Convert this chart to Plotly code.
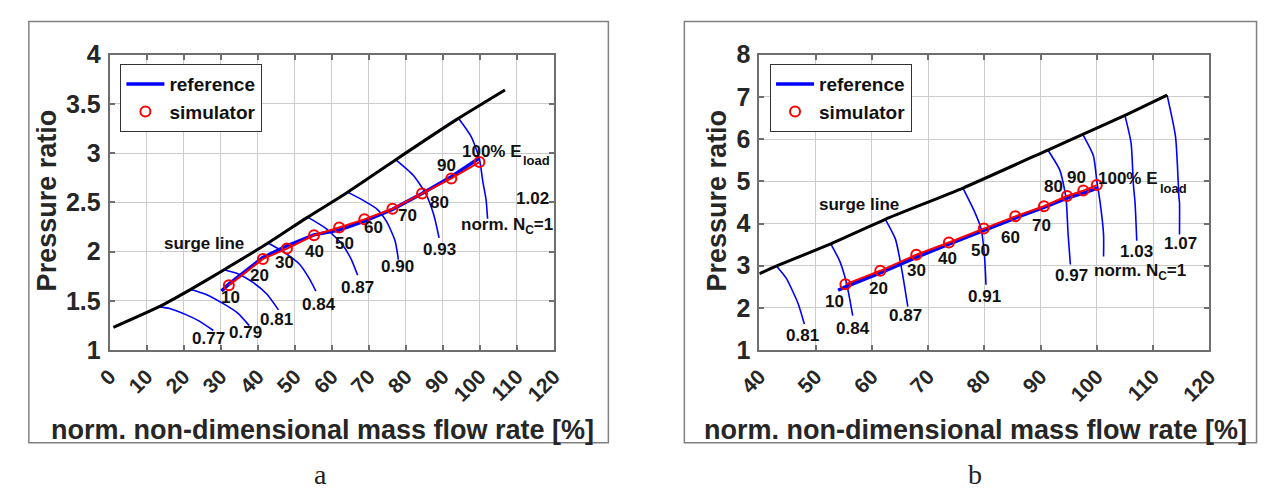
import plotly.graph_objects as go

W, H = 1268, 503

# ---------------- panel a data ----------------
A_SURGE_X = [1.0, 13.4, 21.8, 30.7, 42.8, 53.2, 64.3, 77.2, 93.9, 106.8]
A_SURGE_Y = [1.232, 1.442, 1.615, 1.812, 2.087, 2.343, 2.604, 2.931, 3.345, 3.641]

A_N077_X = [13.6, 16.2, 20.6, 24.1, 28.0]
A_N077_Y = [1.44, 1.424, 1.361, 1.297, 1.20]
A_N079_X = [21.9, 25.9, 30.7, 34.6, 37.7]
A_N079_Y = [1.616, 1.568, 1.472, 1.376, 1.249]
A_N081_X = [31.1, 34.6, 39.0, 42.5, 45.6]
A_N081_Y = [1.814, 1.776, 1.68, 1.568, 1.409]
A_N084_X = [42.9, 46.9, 51.3, 53.9, 55.7]
A_N084_Y = [2.085, 1.999, 1.872, 1.728, 1.60]
A_N087_X = [53.5, 58.3, 62.7, 65.3, 67.0]
A_N087_Y = [2.35, 2.238, 2.08, 1.92, 1.76]
A_N090_X = [64.3, 68.5, 72.3, 74.9, 77.1, 78.0]
A_N090_Y = [2.604, 2.52, 2.43, 2.30, 2.11, 1.92]
A_N093_X = [77.1, 81.9, 85.4, 87.6, 89.0]
A_N093_Y = [2.94, 2.78, 2.59, 2.37, 2.14]
A_N100_X = [94.2, 97.7, 99.9, 100.8, 101.7, 102.1]
A_N100_Y = [3.356, 3.165, 2.94, 2.717, 2.526, 2.334]

A_REF_X = [30.2, 32.2, 41.4, 47.9, 55.2, 62.0, 68.8, 76.4, 84.4, 92.3, 99.9]
A_REF_Y = [1.60, 1.67, 1.94, 2.06, 2.17, 2.22, 2.31, 2.43, 2.59, 2.76, 2.95]
A_SIM_X = [32.2, 41.4, 47.9, 55.2, 62.0, 68.8, 76.4, 84.4, 92.3, 99.9]
A_SIM_Y = [1.658, 1.926, 2.031, 2.166, 2.245, 2.328, 2.435, 2.59, 2.743, 2.909]

A_SPEED_LABELS = ["0.77", "0.79", "0.81", "0.84", "0.87", "0.90", "0.93", "1.02"]
A_SPEED_LAB_X = [26.6, 36.8, 45.0, 56.6, 67.0, 77.7, 89.0, 114.3]
A_SPEED_LAB_Y = [1.12, 1.175, 1.31, 1.46, 1.64, 1.85, 2.02, 2.54]
A_LOAD_LABELS = ["10", "20", "30", "40", "50", "60", "70", "80", "90"]
A_LOAD_LAB_X = [32.7, 40.6, 47.1, 55.3, 63.5, 71.4, 80.6, 89.0, 90.9]
A_LOAD_LAB_Y = [1.536, 1.754, 1.894, 2.0, 2.085, 2.245, 2.367, 2.494, 2.87]

# ---------------- panel b data ----------------
B_SURGE_X = [40.0, 43.2, 52.7, 62.4, 76.2, 91.3, 97.5, 105.0, 112.5]
B_SURGE_Y = [2.81, 3.0, 3.52, 4.10, 4.84, 5.74, 6.11, 6.56, 7.04]

B_N081_X = [43.0, 44.8, 46.9, 48.0]
B_N081_Y = [3.0, 2.70, 2.10, 1.62]
B_N084_X = [52.7, 54.3, 55.5, 56.6]
B_N084_Y = [3.52, 3.11, 2.59, 1.82]
B_N087_X = [62.4, 64.2, 65.4, 66.4]
B_N087_Y = [4.10, 3.63, 2.85, 2.03]
B_N091_X = [76.2, 78.2, 79.4, 80.0, 80.3]
B_N091_Y = [4.84, 4.30, 3.89, 3.29, 2.55]
B_N097_X = [91.3, 93.4, 94.3, 94.6, 94.9, 95.3]
B_N097_Y = [5.74, 5.27, 4.78, 4.49, 3.74, 3.03]
B_N100_X = [97.5, 99.4, 100.0, 100.6, 101.2, 101.2]
B_N100_Y = [6.11, 5.60, 5.01, 4.49, 3.74, 3.22]
B_N103_X = [105.0, 106.1, 106.5, 106.8, 107.1]
B_N103_Y = [6.56, 5.90, 4.93, 4.49, 3.59]
B_N107_X = [112.5, 114.0, 114.6, 114.7, 114.7]
B_N107_Y = [7.04, 6.05, 4.63, 4.49, 3.74]

B_REF_X = [54.0, 55.3, 61.5, 67.9, 73.7, 79.9, 85.5, 90.6, 94.7, 97.6, 100.1]
B_REF_Y = [2.42, 2.50, 2.83, 3.20, 3.51, 3.84, 4.13, 4.38, 4.60, 4.72, 4.84]
B_SIM_X = [55.3, 61.5, 67.9, 73.7, 79.9, 85.5, 90.6, 94.7, 97.6, 100.0]
B_SIM_Y = [2.56, 2.88, 3.26, 3.55, 3.88, 4.17, 4.41, 4.65, 4.78, 4.91]

B_SPEED_LABELS = ["0.81", "0.84", "0.87", "0.91", "0.97", "1.03", "1.07"]
B_SPEED_LAB_X = [47.6, 56.7, 65.9, 80.0, 95.5, 107.0, 114.8]
B_SPEED_LAB_Y = [1.35, 1.52, 1.82, 2.27, 2.76, 3.33, 3.53]
B_LOAD_LABELS = ["10", "20", "30", "40", "50", "60", "70", "80", "90"]
B_LOAD_LAB_X = [53.4, 61.2, 67.9, 73.4, 79.4, 84.7, 90.1, 92.3, 96.4]
B_LOAD_LAB_Y = [2.16, 2.47, 2.88, 3.16, 3.37, 3.68, 3.96, 4.87, 5.10]

X_TITLE = "norm. non-dimensional mass flow rate [%]"
Y_TITLE = "Pressure ratio"

FONT = "Liberation Sans"
BLUE = "#0000ff"
RED = "#ff0000"


def px(x):
    return x / W


def py(y):
    return 1 - y / H


A_SPEEDS = [(A_N077_X, A_N077_Y), (A_N079_X, A_N079_Y), (A_N081_X, A_N081_Y),
            (A_N084_X, A_N084_Y), (A_N087_X, A_N087_Y), (A_N090_X, A_N090_Y),
            (A_N093_X, A_N093_Y), (A_N100_X, A_N100_Y)]
B_SPEEDS = [(B_N081_X, B_N081_Y), (B_N084_X, B_N084_Y), (B_N087_X, B_N087_Y),
            (B_N091_X, B_N091_Y), (B_N097_X, B_N097_Y), (B_N100_X, B_N100_Y),
            (B_N103_X, B_N103_Y), (B_N107_X, B_N107_Y)]

fig = go.Figure()


def add_panel(xa, ya, legend, surge_x, surge_y, speeds, ref_x, ref_y, sim_x, sim_y):
    for sx, sy in speeds:
        fig.add_trace(go.Scatter(x=sx, y=sy, mode="lines", xaxis=xa, yaxis=ya,
                                 line=dict(color=BLUE, width=1.6, shape="spline", smoothing=0.6),
                                 showlegend=False, hoverinfo="skip"))
    fig.add_trace(go.Scatter(x=surge_x, y=surge_y, mode="lines", xaxis=xa, yaxis=ya,
                             line=dict(color="black", width=3, shape="spline", smoothing=0.5),
                             showlegend=False, hoverinfo="skip"))
    fig.add_trace(go.Scatter(x=ref_x, y=ref_y, mode="lines", xaxis=xa, yaxis=ya,
                             name="reference", legend=legend,
                             line=dict(color=BLUE, width=3.5)))
    fig.add_trace(go.Scatter(x=sim_x, y=sim_y, mode="lines", xaxis=xa, yaxis=ya,
                             line=dict(color=RED, width=2), showlegend=False, hoverinfo="skip"))
    fig.add_trace(go.Scatter(x=sim_x, y=sim_y, mode="markers", xaxis=xa, yaxis=ya,
                             name="simulator", legend=legend,
                             marker=dict(symbol="circle-open", size=10, color=RED,
                                         line=dict(width=2, color=RED))))


add_panel("x", "y", "legend", A_SURGE_X, A_SURGE_Y, A_SPEEDS, A_REF_X, A_REF_Y, A_SIM_X, A_SIM_Y)
add_panel("x2", "y2", "legend2", B_SURGE_X, B_SURGE_Y, B_SPEEDS, B_REF_X, B_REF_Y, B_SIM_X, B_SIM_Y)

ann = []
lab_font = dict(family=FONT, size=17, color="#111111", weight="bold")


def add_labels(xr, yr, labels, xs, ys):
    for t, x, y in zip(labels, xs, ys):
        ann.append(dict(x=x, y=y, xref=xr, yref=yr, text=t, showarrow=False,
                        xanchor="center", yanchor="middle", font=lab_font))


add_labels("x", "y", A_SPEED_LABELS, A_SPEED_LAB_X, A_SPEED_LAB_Y)
add_labels("x", "y", A_LOAD_LABELS, A_LOAD_LAB_X, A_LOAD_LAB_Y)
add_labels("x2", "y2", B_SPEED_LABELS, B_SPEED_LAB_X, B_SPEED_LAB_Y)
add_labels("x2", "y2", B_LOAD_LABELS, B_LOAD_LAB_X, B_LOAD_LAB_Y)

add_labels("x", "y", ["surge line", "100% E", "norm. N<sub>C</sub>=1"],
           [25.6, 103.2, 107.4], [2.08, 3.02, 2.26])
add_labels("x2", "y2", ["surge line", "100% E", "norm. N<sub>C</sub>=1"],
           [57.7, 105.6, 107.7], [4.46, 5.07, 2.86])
ann.append(dict(x=115.4, y=2.93, xref="x", yref="y", text="load", showarrow=False,
                font=dict(family=FONT, size=13, color="#111111", weight="bold")))
ann.append(dict(x=113.7, y=4.82, xref="x2", yref="y2", text="load", showarrow=False,
                font=dict(family=FONT, size=13, color="#111111", weight="bold")))

title_font = dict(family=FONT, size=27, color="#262626", weight="bold")
for cx in [307.8, 978.4]:
    ann.append(dict(x=px(cx), y=py(440), xref="paper", yref="paper", text=X_TITLE,
                    showarrow=False, xanchor="center", yanchor="middle", font=title_font))
for cx in [25.0, 713.0]:
    ann.append(dict(x=px(cx), y=py(197), xref="paper", yref="paper", text=Y_TITLE,
                    textangle=-90, showarrow=False, xanchor="center", yanchor="middle",
                    font=title_font))
for t, cx in [("a", 305), ("b", 977)]:
    ann.append(dict(x=px(cx), y=py(488), xref="paper", yref="paper", text=t, showarrow=False,
                    xanchor="center", yanchor="middle",
                    font=dict(family="Liberation Serif", size=28, color="#222222")))

shapes = [
    dict(type="rect", xref="paper", yref="paper", x0=px(6), x1=px(601), y0=py(454), y1=py(8),
         line=dict(color="#808080", width=1.5)),
    dict(type="rect", xref="paper", yref="paper", x0=px(679), x1=px(1266.5), y0=py(454), y1=py(8),
         line=dict(color="#808080", width=1.5)),
]

axis_common = dict(showgrid=True, gridcolor="#cccccc", gridwidth=1.3,
                   showline=True, linecolor="#6e6e6e", linewidth=2, mirror="ticks",
                   ticks="inside", ticklen=5, tickcolor="#6e6e6e", tickwidth=1.5,
                   zeroline=False, fixedrange=True)
xtick_font = dict(family=FONT, size=21, color="#262626", weight="bold")
ytick_font = dict(family=FONT, size=25, color="#262626", weight="bold")
leg_font = dict(family=FONT, size=19, color="#111111", weight="bold")

fig.update_layout(
    width=W, height=H, autosize=False,
    margin=dict(l=0, r=0, t=0, b=0, pad=0),
    paper_bgcolor="white", plot_bgcolor="white",
    xaxis=dict(domain=[px(89), px(545)], range=[0, 120], dtick=10, tick0=0, anchor="y",
               tickangle=-45, tickfont=xtick_font, ticklabelstandoff=4, **axis_common),
    yaxis=dict(domain=[py(356), py(43)], range=[1, 4], dtick=0.5, tick0=1, anchor="x",
               tickfont=ytick_font, ticklabelstandoff=2, **axis_common),
    xaxis2=dict(domain=[px(756), px(1218)], range=[40, 120], dtick=10, tick0=0, anchor="y2",
                tickangle=-45, tickfont=xtick_font, ticklabelstandoff=4, **axis_common),
    yaxis2=dict(domain=[py(356), py(43)], range=[1, 8], dtick=1, tick0=1, anchor="x2",
                tickfont=ytick_font, ticklabelstandoff=2, **axis_common),
    legend=dict(x=px(100), y=py(53), xanchor="left", yanchor="top", bgcolor="white",
                bordercolor="#333333", borderwidth=1, tracegroupgap=0, itemwidth=38,
                font=leg_font),
    legend2=dict(x=px(767), y=py(53), xanchor="left", yanchor="top", bgcolor="white",
                 bordercolor="#333333", borderwidth=1, tracegroupgap=0, itemwidth=38,
                 font=leg_font),
    annotations=ann,
    shapes=shapes,
    showlegend=True,
)

fig.write_html("out.html")
